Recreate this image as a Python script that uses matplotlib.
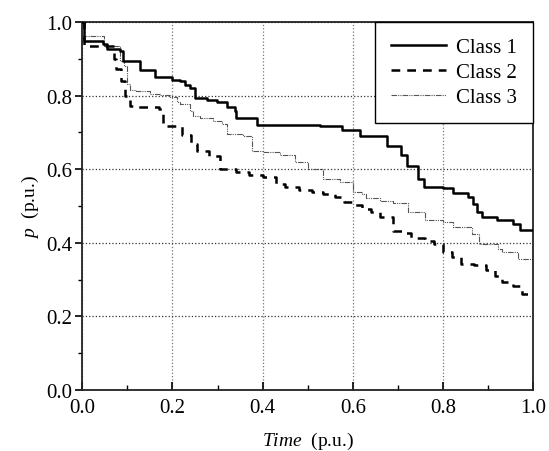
import matplotlib
matplotlib.use("Agg")
import matplotlib.pyplot as plt
from matplotlib.ticker import MultipleLocator

plt.rcParams['font.family'] = ['Liberation Serif', 'DejaVu Serif']
plt.rcParams['mathtext.fontset'] = 'custom'
plt.rcParams['mathtext.rm'] = 'Liberation Serif'
plt.rcParams['mathtext.it'] = 'Liberation Serif:italic'

# Class 1 (step, post)
t1 = [0.0, 0.003, 0.046, 0.054, 0.083, 0.09, 0.128, 0.161, 0.198, 0.216, 0.228, 0.239,
      0.25, 0.276, 0.298, 0.32, 0.339, 0.342, 0.387, 0.527, 0.575, 0.616, 0.677, 0.708,
      0.72, 0.745, 0.757, 0.80, 0.823, 0.856, 0.867, 0.875, 0.886, 0.919, 0.956, 0.971, 1.0]
p1 = [1.0, 0.949, 0.940, 0.928, 0.922, 0.895, 0.870, 0.850, 0.843, 0.840, 0.829, 0.820,
      0.793, 0.789, 0.782, 0.768, 0.759, 0.738, 0.720, 0.717, 0.707, 0.691, 0.664, 0.639,
      0.610, 0.573, 0.553, 0.548, 0.535, 0.524, 0.505, 0.483, 0.469, 0.463, 0.451, 0.436, 0.436]

# Class 2
t2 = [0.0, 0.004, 0.07, 0.075, 0.085, 0.094, 0.105, 0.12, 0.17, 0.178, 0.22, 0.24, 0.255,
      0.28, 0.305, 0.34, 0.37, 0.40, 0.43, 0.45, 0.48, 0.51, 0.535, 0.56, 0.58, 0.605,
      0.62, 0.64, 0.66, 0.69, 0.71, 0.73, 0.76, 0.78, 0.80, 0.82, 0.84, 0.87, 0.895,
      0.915, 0.93, 0.955, 0.975, 1.0]
p2 = [1.0, 0.935, 0.900, 0.872, 0.840, 0.800, 0.773, 0.768, 0.764, 0.718, 0.693, 0.668, 0.650,
      0.637, 0.600, 0.592, 0.584, 0.578, 0.560, 0.551, 0.544, 0.537, 0.533, 0.524, 0.510, 0.504,
      0.492, 0.483, 0.469, 0.433, 0.428, 0.412, 0.406, 0.397, 0.376, 0.361, 0.342, 0.340, 0.325,
      0.310, 0.293, 0.282, 0.261, 0.261]

# Class 3
t3 = [0.0, 0.003, 0.048, 0.083, 0.092, 0.098, 0.105, 0.12, 0.15, 0.172, 0.194, 0.209, 0.216,
      0.239, 0.246, 0.261, 0.29, 0.309, 0.32, 0.357, 0.376, 0.401, 0.438, 0.472, 0.50,
      0.534, 0.572, 0.60, 0.62, 0.63, 0.66, 0.69, 0.723, 0.76, 0.80, 0.823, 0.864, 0.879,
      0.923, 0.93, 0.967, 1.0]
p3 = [1.0, 0.963, 0.935, 0.895, 0.881, 0.832, 0.816, 0.813, 0.804, 0.802, 0.797, 0.782, 0.777,
      0.759, 0.745, 0.739, 0.732, 0.723, 0.696, 0.691, 0.650, 0.646, 0.639, 0.619, 0.600,
      0.573, 0.564, 0.539, 0.533, 0.521, 0.514, 0.508, 0.483, 0.463, 0.457, 0.442, 0.424, 0.397,
      0.383, 0.376, 0.356, 0.356]

labels = ["Class 1", "Class 2", "Class 3"]

fig = plt.figure(figsize=(5.49, 4.52), dpi=100)
ax = fig.add_axes([0.150, 0.135, 0.821, 0.814])

ax.step(t1, p1, where='post', color='black', lw=1.8, label=labels[0], zorder=4)
ax.step(t2, p2, where='post', color='black', lw=1.8, linestyle=(0, (3.5, 2.8)), label=labels[1], zorder=3)
ax.step(t3, p3, where='post', color='#555555', lw=0.8, linestyle=(0, (5, 1, 1, 1, 1, 1)), label=labels[2], zorder=2)

ax.set_xlim(0, 1)
ax.set_ylim(0, 1)
ax.xaxis.set_major_locator(MultipleLocator(0.2))
ax.xaxis.set_minor_locator(MultipleLocator(0.1))
ax.yaxis.set_major_locator(MultipleLocator(0.2))
ax.yaxis.set_minor_locator(MultipleLocator(0.1))
ax.xaxis.set_major_formatter(matplotlib.ticker.FormatStrFormatter('%.1f'))
ax.yaxis.set_major_formatter(matplotlib.ticker.FormatStrFormatter('%.1f'))

ax.tick_params(axis='x', which='major', direction='in', length=6, width=1.2, labelsize=15, pad=6)
ax.tick_params(axis='x', which='minor', direction='in', length=3.5, width=1.0)
ax.tick_params(axis='y', which='major', direction='out', length=5, width=1.2, labelsize=15, pad=2)
ax.tick_params(axis='y', which='minor', direction='out', length=3, width=1.0)

for s in ax.spines.values():
    s.set_linewidth(1.3)
    s.set_color('#222222')

ax.grid(True, axis='x', which='major', linestyle=':', color='#777777', lw=0.9)
ax.grid(True, axis='y', which='major', linestyle=':', color='#333333', lw=0.9)
ax.set_axisbelow(True)

ax.set_xlabel(r'$\mathit{Time}$  (p.u.)', fontsize=14, labelpad=9)
ax.set_ylabel(r'$p$  (p.u.)', fontsize=14, labelpad=4)

leg = ax.legend(loc='upper right', bbox_to_anchor=(1, 1), borderaxespad=0,
                fancybox=False, edgecolor='black', framealpha=1, fontsize=15,
                handlelength=2.65, handletextpad=0.5, labelspacing=0.26, borderpad=0.75)
leg.get_frame().set_linewidth(1.0)

fig.savefig("out.png", dpi=100)
